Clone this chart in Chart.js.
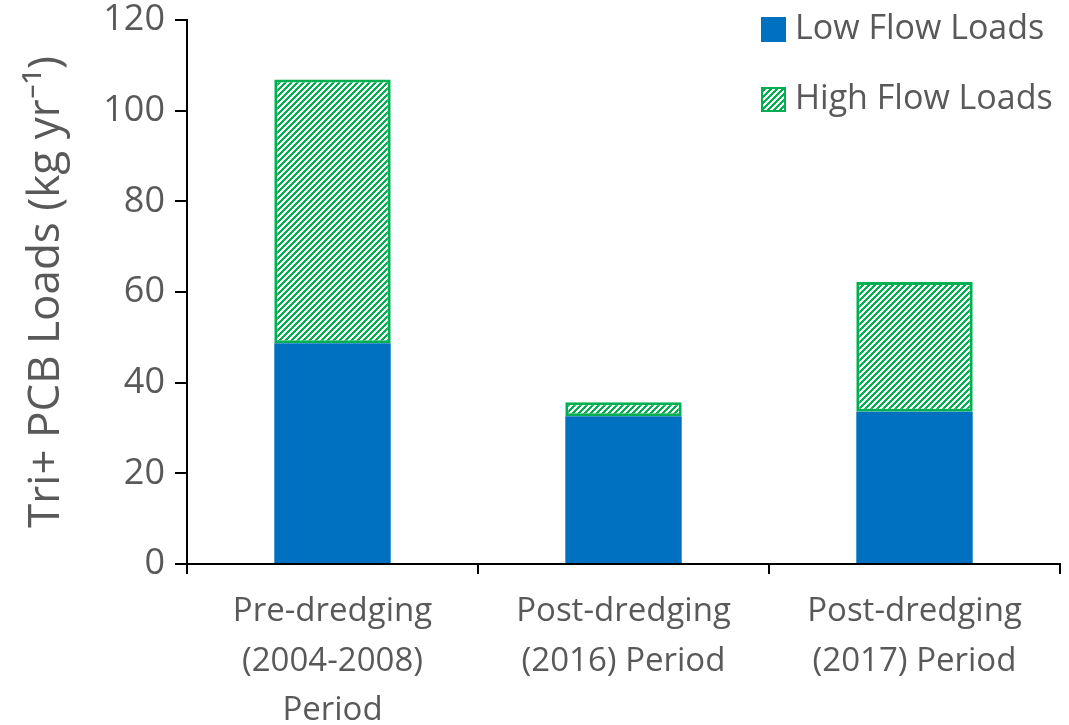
<!DOCTYPE html>
<html>
<head>
<meta charset="utf-8">
<script src="https://cdn.jsdelivr.net/npm/chart.js@4/dist/chart.umd.min.js"></script>
<style>
  html, body { margin: 0; padding: 0; background: #fff; }
  #wrap { width: 1069px; height: 725px; }
</style>
</head>
<body>
<div id="wrap"><canvas id="chart" width="1069" height="725"></canvas></div>
<script>
var categories = [
    ['Pre-dredging', '(2004-2008)', 'Period'],
    ['Post-dredging', '(2016) Period'],
    ['Post-dredging', '(2017) Period']
];
var lowFlowLoads = [48.7, 32.6, 33.6];
var highFlowLoads = [58.2, 3.1, 28.6];
var seriesNames = ['Low Flow Loads', 'High Flow Loads'];

var blue = '#0070C0';
var green = '#00B050';
var textColor = '#595959';
var fontFamily = "'Open Sans', 'Liberation Sans', sans-serif";

// upward diagonal hatch, like the Excel pattern fill
function makeHatch() {
    var c = document.createElement('canvas');
    c.width = 6;
    c.height = 6;
    var g = c.getContext('2d');
    for (var y = 0; y < 6; y++) {
        for (var x = 0; x < 6; x++) {
            g.fillStyle = ((x + y) % 6) < 3 ? green : '#ffffff';
            g.fillRect(x, y, 1, 1);
        }
    }
    return document.getElementById('chart').getContext('2d').createPattern(c, 'repeat');
}
var hatch = makeHatch();

// legend drawn inside the plot, top right
var insideLegend = {
    id: 'insideLegend',
    afterDraw: function (chart) {
        var ctx = chart.ctx;
        var items = [
            { text: seriesNames[0], fill: blue, y: 29 },
            { text: seriesNames[1], fill: hatch, y: 99 }
        ];
        ctx.save();
        ctx.font = '34px ' + fontFamily;
        ctx.textBaseline = 'middle';
        items.forEach(function (it) {
            ctx.fillStyle = it.fill;
            ctx.fillRect(761, it.y - 12, 25, 25);
            if (it.fill === hatch) {
                ctx.strokeStyle = green;
                ctx.lineWidth = 2;
                ctx.strokeRect(762, it.y - 11, 23, 23);
            }
            ctx.fillStyle = textColor;
            ctx.fillText(it.text, 795, it.y);
        });
        ctx.restore();
    }
};

new Chart(document.getElementById('chart').getContext('2d'), {
    type: 'bar',
    data: {
        labels: categories,
        datasets: [{
            label: seriesNames[0],
            data: lowFlowLoads,
            backgroundColor: blue,
            borderWidth: 0
        }, {
            label: seriesNames[1],
            data: highFlowLoads,
            backgroundColor: hatch,
            borderColor: green,
            borderWidth: 3,
            borderSkipped: false
        }]
    },
    options: {
        responsive: false,
        animation: false,
        layout: { padding: { top: 20, right: 9, left: 0, bottom: 0 } },
        datasets: {
            bar: { categoryPercentage: 1, barPercentage: 0.4 }
        },
        plugins: {
            legend: { display: false },
            tooltip: { enabled: false }
        },
        scales: {
            x: {
                stacked: true,
                border: { color: '#000', width: 2 },
                grid: {
                    offset: true,
                    drawOnChartArea: false,
                    color: '#000',
                    lineWidth: 2,
                    tickLength: 10
                },
                ticks: {
                    color: textColor,
                    font: { family: fontFamily, size: 33, lineHeight: 1.5 },
                    padding: 13,
                    maxRotation: 0
                },
                afterFit: function (scale) {
                    scale.height = 161;
                }
            },
            y: {
                stacked: true,
                min: 0,
                max: 120,
                border: { color: '#000', width: 2 },
                grid: {
                    drawOnChartArea: false,
                    color: '#000',
                    lineWidth: 2,
                    tickLength: 12
                },
                ticks: {
                    stepSize: 10,
                    color: textColor,
                    font: { family: fontFamily, size: 36 },
                    padding: 10,
                    callback: function (v) {
                        return v % 20 === 0 ? v : '';
                    }
                },
                title: {
                    display: true,
                    text: 'Tri+ PCB Loads (kg yr\u207B\u00B9)',
                    color: textColor,
                    font: { family: fontFamily, size: 44 },
                    padding: { top: 20, bottom: 0 }
                },
                afterFit: function (scale) {
                    scale.width = 187;
                    scale.paddingTop = 0;
                    scale.paddingBottom = 0;
                }
            }
        }
    },
    plugins: [insideLegend]
});
</script>
</body>
</html>
